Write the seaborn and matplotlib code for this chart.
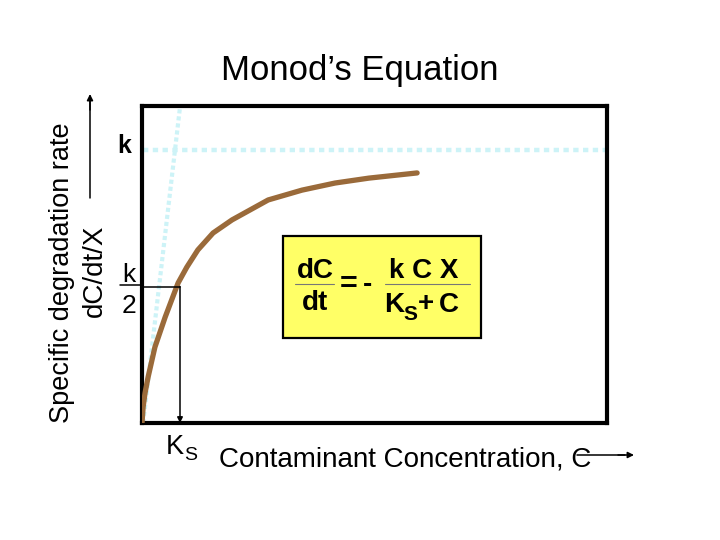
import matplotlib
matplotlib.use("Agg")
import matplotlib.pyplot as plt
import seaborn as sns
from matplotlib.patches import Rectangle

# curve (x in units of Ks, y in units of k)
curve_x = [0.0, 0.03, 0.08, 0.16, 0.34, 0.61, 0.95, 1.18, 1.47, 1.87, 2.37, 3.32, 4.21, 5.08, 5.97, 7.24]
curve_y = [0.0, 0.059, 0.11, 0.168, 0.278, 0.388, 0.513, 0.571, 0.634, 0.696, 0.744, 0.817, 0.853, 0.879, 0.897, 0.916]
k_level = 1.0
ks = 1.0
half_k = 0.5
tangent_x = [0.03, 1.0]
tangent_y = [0.0, 1.157]

title = "Monod’s Equation"
ylab1 = "Specific degradation rate"
ylab2 = "dC/dt/X"
xlab = "Contaminant Concentration, C"

sns.set_theme(style="white")
plt.rcParams["font.family"] = ["Liberation Sans", "DejaVu Sans"]
plt.rcParams["text.color"] = "black"

W, H = 720, 540
fig = plt.figure(figsize=(7.2, 5.4), dpi=100)
fig.patch.set_facecolor("white")


def px(x, y):
    return x / W, 1 - y / H


def ftext(x, y, s, **kw):
    fig.text(*px(x, y), s, ha=kw.pop("ha", "center"), va=kw.pop("va", "center"), **kw)


def hline(x0, x1, y, **kw):
    fig.add_artist(plt.Line2D([x0 / W, x1 / W], [1 - y / H, 1 - y / H], **kw))


ax = fig.add_axes([142 / W, (H - 423) / H, 465 / W, 317 / H])
ax.set_xlim(0, 465 / 38)
ax.set_ylim(0, 317 / 273)
ax.set_xticks([])
ax.set_yticks([])
for sp in ax.spines.values():
    sp.set_linewidth(3.0)
    sp.set_color("black")
    sp.set_visible(True)

cyan = "#cdf3f7"
ax.plot([0.02, ax.get_xlim()[1]], [k_level, k_level], color=cyan, lw=3.2,
        dashes=(1.2, 1.0), solid_capstyle="butt", zorder=2)
ax.plot(tangent_x, tangent_y, color=cyan, lw=3.0, dashes=(1.0, 0.7), zorder=2,
        clip_on=False)

sns.lineplot(x=curve_x, y=curve_y, ax=ax, color="#9a6a3a", lw=3.8, zorder=3)

# Ks guide lines
ax.plot([0, ks], [half_k, half_k], color="black", lw=1.1, zorder=4)
ax.annotate("", xy=(ks, 0.0), xytext=(ks, half_k),
            arrowprops=dict(arrowstyle="-|>", color="black", lw=1.1,
                            mutation_scale=8, shrinkA=0, shrinkB=0), zorder=4)

# axis arrows
fig.add_artist(plt.Line2D([90 / W, 90 / W], [1 - 198 / H, 1 - 100 / H], color="black", lw=1.1))
ax.annotate("", xy=px(90, 94), xytext=px(90, 110), xycoords="figure fraction",
            arrowprops=dict(arrowstyle="-|>", color="black", lw=1.1, mutation_scale=9,
                            shrinkA=0, shrinkB=0))
hline(577, 625, 455, color="black", lw=1.1)
ax.annotate("", xy=px(634, 455), xytext=px(618, 455), xycoords="figure fraction",
            arrowprops=dict(arrowstyle="-|>", color="black", lw=1.1, mutation_scale=9,
                            shrinkA=0, shrinkB=0))

# texts
ftext(360, 80, title, fontsize=25, va="baseline")
ftext(62, 273, ylab1, fontsize=19.5, rotation=90)
ftext(95, 271, ylab2, fontsize=20, rotation=90)
ftext(124, 146, "k", fontsize=18, fontweight="bold")
ftext(129, 282, "k", fontsize=19, va="baseline")
ftext(129, 313, "2", fontsize=19, va="baseline")
hline(120, 140, 285, color="black", lw=1.1)
ftext(175, 454, "K", fontsize=19.5, va="baseline")
ftext(191, 460, "S", fontsize=14, va="baseline")
ftext(219, 467, xlab, fontsize=20, ha="left", va="baseline")

# equation box
fig.add_artist(Rectangle(px(283, 338), 198 / W, 102 / H, transform=fig.transFigure,
                         facecolor="#ffff66", edgecolor="black", lw=1.6))
eq = dict(fontsize=20, fontweight="bold", va="baseline")
ftext(315, 278, "dC", **eq)
ftext(315, 310, "dt", **eq)
hline(295, 334, 284, color="#777777", lw=0.8)
ftext(349, 293, "=", fontsize=22, fontweight="bold", va="baseline")
ftext(368, 292, "-", fontsize=20, fontweight="bold", va="baseline")
ftext(424, 278, "k C X", **eq)
ftext(394, 312, "K", **eq)
ftext(410, 320, "S", fontsize=15, fontweight="bold", va="baseline")
ftext(426, 311, "+", fontsize=20, fontweight="bold", va="baseline")
ftext(449, 312, "C", **eq)
hline(385, 470, 284, color="#777777", lw=0.8)

fig.savefig("out.png", dpi=100)
